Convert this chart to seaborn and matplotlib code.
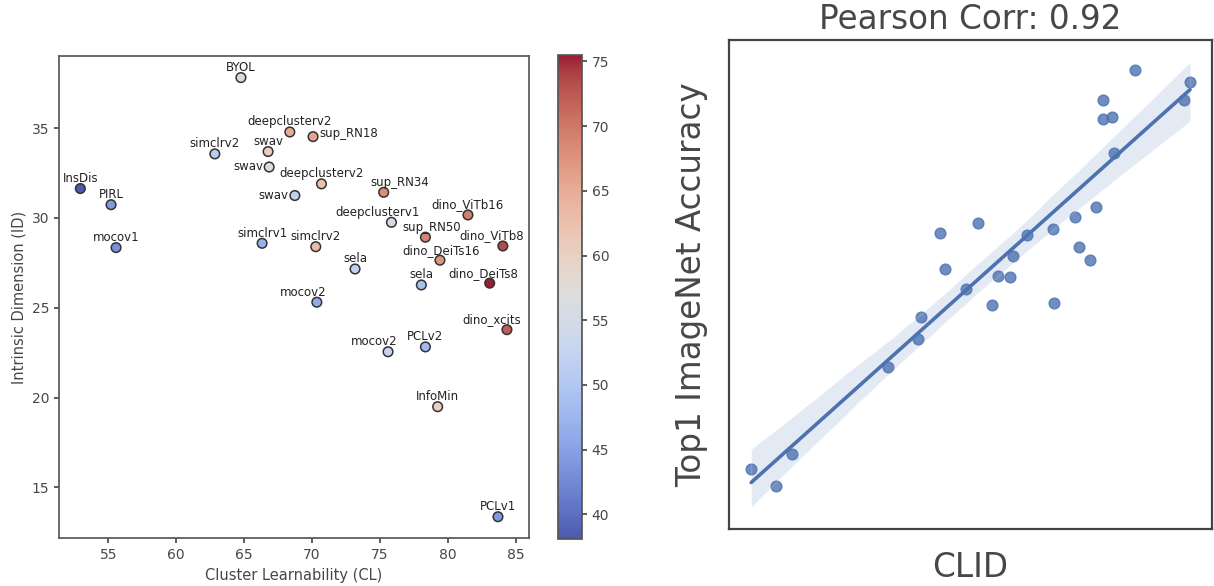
import numpy as np
import pandas as pd
import matplotlib
matplotlib.use("Agg")
import matplotlib.pyplot as plt
from matplotlib.colors import ListedColormap
import seaborn as sns


# pannello sinistro: modelli, cluster learnability, intrinsic dimension, accuratezza (colore)
modelli = [
    "BYOL", "deepclusterv2", "simclrv2", "swav", "swav", "swav", "InsDis", "PIRL",
    "mocov1", "simclrv1", "sup_RN18", "deepclusterv2", "sup_RN34", "deepclusterv1",
    "dino_ViTb16", "sup_RN50", "dino_ViTb8", "simclrv2", "dino_DeiTs16", "sela",
    "sela", "dino_DeiTs8", "mocov2", "dino_xcits", "mocov2", "PCLv2", "InfoMin", "PCLv1",
]
cluster_learn = [
    64.76, 68.36, 62.84, 66.76, 66.84, 68.73, 52.94, 55.20,
    55.57, 66.32, 70.07, 70.69, 75.27, 75.84,
    81.47, 78.34, 84.04, 70.27, 79.41, 73.16,
    78.04, 83.07, 70.35, 84.34, 75.59, 78.34, 79.24, 83.68,
]
intrinsic_dim = [
    37.82, 34.79, 33.57, 33.70, 32.84, 31.25, 31.64, 30.74,
    28.35, 28.59, 34.53, 31.90, 31.43, 29.76,
    30.17, 28.93, 28.44, 28.40, 27.65, 27.16,
    26.27, 26.37, 25.31, 23.78, 22.55, 22.82, 19.49, 13.36,
]
accuratezza = [
    58.0, 65.0, 51.0, 60.5, 56.0, 52.0, 38.1, 44.0,
    43.5, 47.0, 66.0, 62.5, 68.0, 55.0,
    69.5, 69.0, 73.5, 63.0, 67.5, 52.0,
    49.0, 75.5, 46.0, 72.0, 53.0, 48.0, 60.0, 44.0,
]

# spostamento delle etichette (pixel) e allineamento
etichette_dx = [0, 0, 0, 0, -6, -6, 0, 0, 0, 0, 6, 0, 16, -14,
                0, 6, -11, 0, 1, 0, 0, -6, -14, -15, -14, 0, 0, 0]
etichette_dy = [6.5, 6.5, 6.5, 6.5, -3.5, -3.5, 6.5, 6.5, 6.5, 6.5, 0, 6.5, 6.5, 6.5,
                6.5, 6.5, 6.5, 6.5, 6.5, 6.5, 6.5, 6.5, 6.5, 6.5, 6.5, 6.5, 6.5, 6.5]
etichette_ha = ["center"] * 28
etichette_ha[4] = "right"
etichette_ha[5] = "right"
etichette_ha[10] = "left"

# pannello destro: CLID vs Top1 ImageNet Accuracy
clid = [4.37, 4.92, 4.86, 4.05, 4.05, 4.14, 4.16, 3.98, 3.77, 3.55, 3.29, 3.15, 2.99, 3.12,
        2.79, 2.41, 2.46, 3.81, 3.92, 2.67, 2.93, 3.56, 2.22, 2.19, 1.89, 0.93, 0.52, 0.77]
top1 = [75.50, 74.50, 72.85, 72.88, 71.14, 71.32, 68.04, 63.22, 62.26, 61.18, 60.66, 58.77,
        56.96, 56.90, 61.72, 60.84, 57.57, 59.61, 58.41, 55.81, 54.41, 54.55, 53.29, 51.27,
        48.77, 40.95, 39.60, 38.10]
pearson = 0.92


def grafico_sinistro(fig):
    ax = fig.add_axes([0.0486, 0.0814, 0.3871, 0.8236])
    cax = fig.add_axes([0.4596, 0.0802, 0.0198, 0.826])

    df = pd.DataFrame({"cl": cluster_learn, "id": intrinsic_dim, "acc": accuratezza})
    norm = plt.Normalize(df["acc"].min(), df["acc"].max())
    cmap = ListedColormap(sns.color_palette("coolwarm", 256, desat=0.72))

    sns.scatterplot(
        data=df, x="cl", y="id", hue="acc", hue_norm=norm, palette=cmap,
        s=48, edgecolor="#333333", linewidth=1.1, legend=False, ax=ax, zorder=3
    )

    for i, nome in enumerate(modelli):
        ax.annotate(
            nome, (cluster_learn[i], intrinsic_dim[i]),
            xytext=(etichette_dx[i], etichette_dy[i]), textcoords="offset pixels",
            ha=etichette_ha[i], va="baseline", fontsize=8.5, color="#222222"
        )

    ax.set_xlim(51.37, 85.96)
    ax.set_ylim(12.16, 39.04)
    ax.set_xticks([55, 60, 65, 70, 75, 80, 85])
    ax.set_yticks([15, 20, 25, 30, 35])
    ax.set_xlabel("Cluster Learnability (CL)", fontsize=10.5)
    ax.set_ylabel("Intrinsic Dimension (ID)", fontsize=10.5)
    ax.tick_params(labelsize=10, length=3.5)

    sm = plt.cm.ScalarMappable(cmap=cmap, norm=norm)
    cbar = fig.colorbar(sm, cax=cax)
    cbar.set_ticks([40, 45, 50, 55, 60, 65, 70, 75])
    cbar.ax.tick_params(labelsize=10, length=3.5)
    cbar.outline.set_edgecolor("#555555")


def grafico_destro(fig):
    ax = fig.add_axes([0.6007, 0.0968, 0.3976, 0.835])
    df = pd.DataFrame({"CLID": clid, "Top1 ImageNet Accuracy": top1})

    sns.regplot(
        data=df, x="CLID", y="Top1 ImageNet Accuracy", ax=ax, seed=0,
        scatter_kws={"s": 60}, line_kws={"lw": 2.6}
    )
    ax.set_xticks([])
    ax.set_yticks([])
    ax.set_title(f"Pearson Corr: {pearson}", fontsize=23.5, pad=8)
    ax.set_xlabel("CLID", fontsize=23.5, labelpad=16)
    ax.set_ylabel("Top1 ImageNet Accuracy", fontsize=23.5, labelpad=15)
    for sp in ax.spines.values():
        sp.set_linewidth(1.6)
        sp.set_edgecolor("#444444")


def main():
    sns.set_theme(style="ticks", rc={
        "axes.edgecolor": ".35",
        "text.color": ".28",
        "axes.labelcolor": ".28",
        "xtick.color": ".28",
        "ytick.color": ".28",
    })
    fig = plt.figure(figsize=(12.14, 5.86), dpi=100)
    grafico_sinistro(fig)
    grafico_destro(fig)
    fig.savefig("out.png", dpi=100)


if __name__ == "__main__":
    main()
